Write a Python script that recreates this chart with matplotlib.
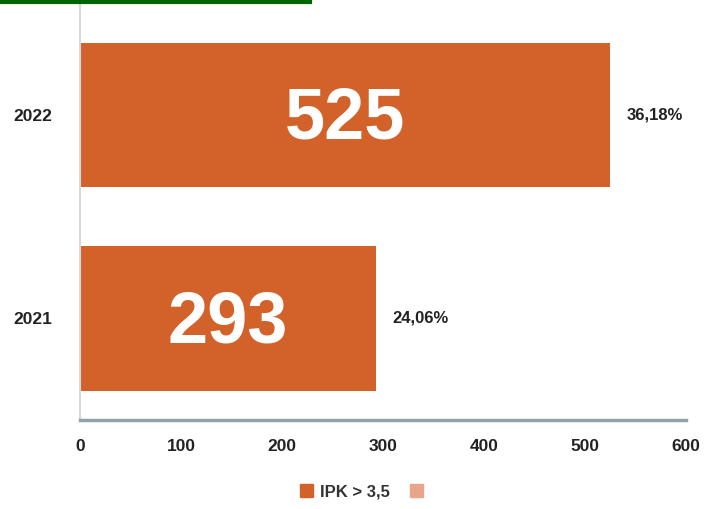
import matplotlib.pyplot as plt
from matplotlib.patches import Patch
from matplotlib.lines import Line2D

years = ["2021", "2022"]
counts = [293, 525]
percents = ["24,06%", "36,18%"]
legend_labels = ["IPK > 3,5", ""]

bar_color = "#D2622A"
light_color = "#E9A58A"

plt.rcParams['font.family'] = ['Liberation Sans', 'DejaVu Sans']

fig = plt.figure(figsize=(7.06, 5.09), dpi=100)
ax = fig.add_axes([80 / 706, 89 / 509, 606 / 706, 415 / 509])

ypos = list(range(len(years)))
ax.barh(ypos, counts, height=0.71, color=bar_color, zorder=2)

for y, c, p in zip(ypos, counts, percents):
    ax.text(c / 2, y - 0.025, str(c), ha="center", va="center", color="white",
            fontsize=52, fontweight="bold")
    ax.text(c + 16, y, p, ha="left", va="center", color="#222222",
            fontsize=12, fontweight="bold")

ax.set_xlim(0, 600)
ax.set_ylim(-0.5, 1.54)
ax.set_xticks(range(0, 601, 100))
ax.set_yticks(ypos)
ax.set_yticklabels(years)
ax.tick_params(axis="both", length=0, labelsize=12.5, colors="#222222")
ax.tick_params(axis="x", pad=14)
ax.tick_params(axis="y", pad=20)
for lab in ax.get_xticklabels() + ax.get_yticklabels():
    lab.set_fontweight("bold")

for s in ["top", "right"]:
    ax.spines[s].set_visible(False)
ax.spines["left"].set_color("#d8d8d8")
ax.spines["left"].set_linewidth(1.5)
ax.spines["bottom"].set_color("#8FA3A8")
ax.spines["bottom"].set_linewidth(2.5)

handles = [Patch(color=bar_color), Patch(color=light_color)]
fig.legend(handles, legend_labels, loc="center", bbox_to_anchor=(365 / 706, 1 - 492 / 509),
           ncol=2, frameon=False, handlelength=0.8, handleheight=0.8,
           handletextpad=0.4, columnspacing=1.2,
           prop={"size": 12, "weight": "bold"}, labelcolor="#333333")

# green line at the top
fig.add_artist(Line2D([0, 310 / 706], [1 - 1.5 / 509, 1 - 1.5 / 509],
                      color="#006400", linewidth=3, transform=fig.transFigure))

fig.savefig("out.png", dpi=100)
